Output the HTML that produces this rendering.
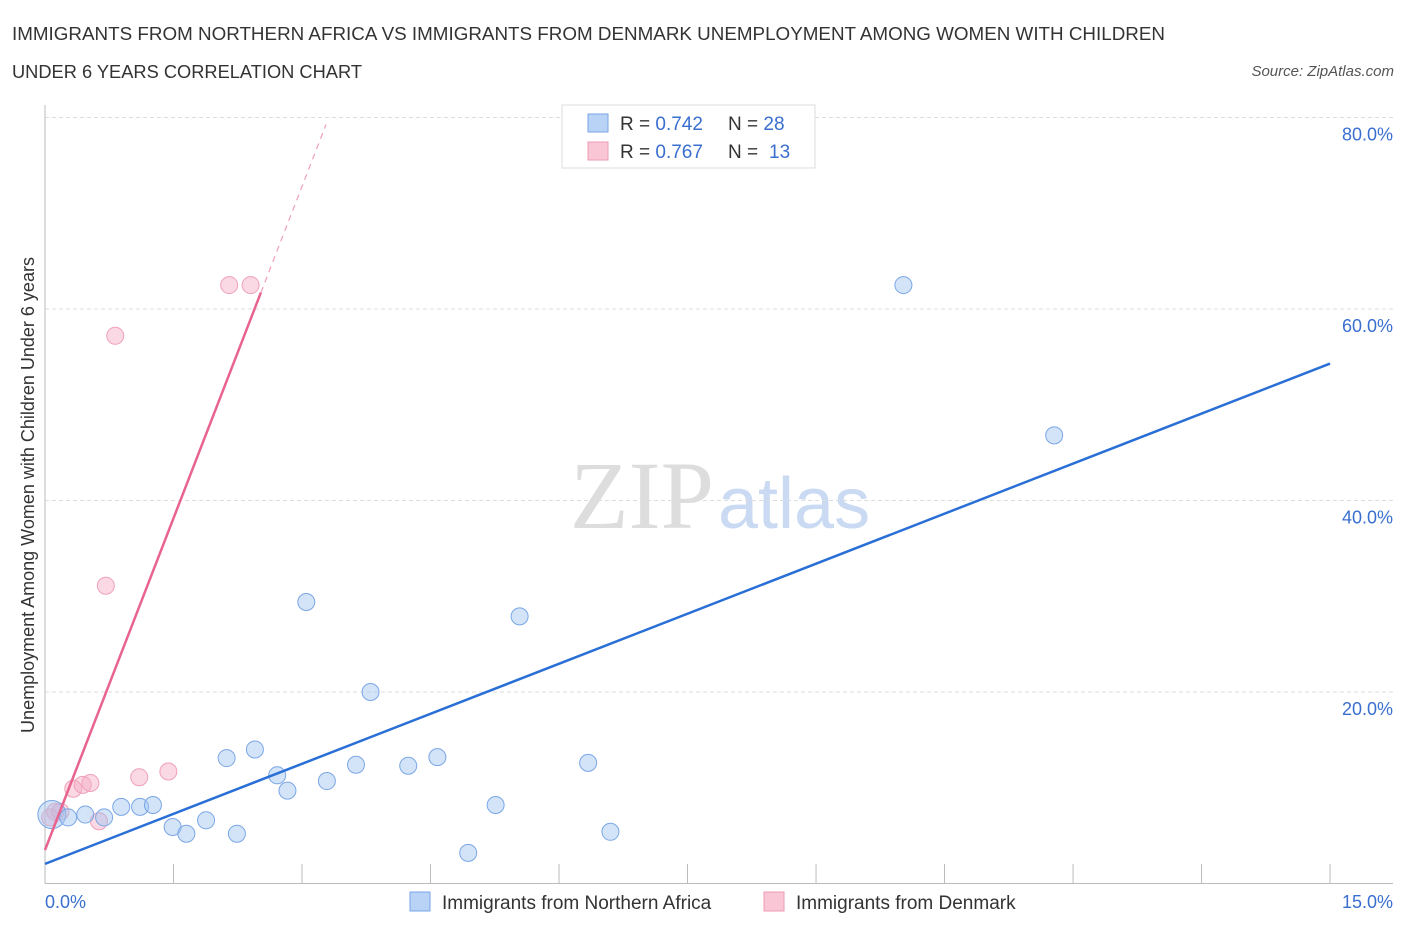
<!DOCTYPE html>
<html><head><meta charset="utf-8"><style>
body{margin:0;background:#fff;font-family:"Liberation Sans",sans-serif}
</style></head><body>
<svg width="1406" height="930" xmlns="http://www.w3.org/2000/svg" font-family="Liberation Sans, sans-serif">
<text x="12" y="40" font-size="18" fill="#333" textLength="1153" lengthAdjust="spacingAndGlyphs">IMMIGRANTS FROM NORTHERN AFRICA VS IMMIGRANTS FROM DENMARK UNEMPLOYMENT AMONG WOMEN WITH CHILDREN</text>
<text x="12" y="78" font-size="18" fill="#333" textLength="350" lengthAdjust="spacingAndGlyphs">UNDER 6 YEARS CORRELATION CHART</text>
<text x="1394" y="76" font-size="15" fill="#555" font-style="italic" text-anchor="end">Source: ZipAtlas.com</text>
<text x="714" y="528" font-size="96" fill="#ddd" text-anchor="end" style="font-family:'Liberation Serif',serif">ZIP</text>
<text x="718" y="528" font-size="72" fill="#c9daf2">atlas</text>
<g id="grid"></g><g id="axes"></g><g id="marks"></g>
<text transform="translate(34,495) rotate(-90)" font-size="18" fill="#333" text-anchor="middle">Unemployment Among Women with Children Under 6 years</text>
<text x="45" y="908" font-size="18" fill="#3a6fd0">0.0%</text>
<text x="1393" y="908" font-size="18" fill="#3a6fd0" text-anchor="end">15.0%</text>
<g>
<rect x="562" y="105" width="253" height="63" fill="#fff" stroke="#ddd"/>
<rect x="588" y="114" width="20" height="18" fill="#b8d3f5" stroke="#7aa6e6"/>
<rect x="588" y="142" width="20" height="18" fill="#f9c6d5" stroke="#ef9ab3"/>
<text x="620" y="130" font-size="19" fill="#333">R = <tspan fill="#3a6fd0">0.742</tspan></text>
<text x="728" y="130" font-size="19" fill="#333">N = <tspan fill="#3a6fd0">28</tspan></text>
<text x="620" y="158" font-size="19" fill="#333">R = <tspan fill="#3a6fd0">0.767</tspan></text>
<text x="728" y="158" font-size="19" fill="#333">N = <tspan x="769" fill="#3a6fd0">13</tspan></text>
</g>
<g>
<rect x="410" y="892" width="20" height="19" fill="#b8d3f5" stroke="#7aa6e6"/>
<text x="442" y="909" font-size="19" fill="#333">Immigrants from Northern Africa</text>
<rect x="764" y="892" width="20" height="19" fill="#f9c6d5" stroke="#ef9ab3"/>
<text x="796" y="909" font-size="19" fill="#333">Immigrants from Denmark</text>
</g>
</svg>
<script>
const yTicks=[20,40,60,80];
const yTickLabels=["20.0%","40.0%","60.0%","80.0%"];
const blueX=[0.08,0.27,0.47,0.69,0.89,1.11,1.26,1.49,1.65,1.88,2.12,2.24,2.45,2.71,2.83,3.05,3.29,3.63,3.80,4.24,4.58,4.94,5.26,5.54,6.34,6.60,10.02,11.78];
const blueY=[7.2,6.9,7.2,6.9,8.0,8.0,8.2,5.9,5.2,6.6,13.1,5.2,14.0,11.3,9.7,29.4,10.7,12.4,20.0,12.3,13.2,3.2,8.2,27.9,12.6,5.4,62.5,46.8];
const pinkX=[0.06,0.12,0.18,0.33,0.44,0.53,0.63,0.71,0.82,1.10,1.44,2.15,2.40];
const pinkY=[6.9,7.5,7.5,9.9,10.3,10.5,6.5,31.1,57.2,11.1,11.7,62.5,62.5];
const blueTrend=[2.05,54.3];
const pinkTrend=[3.5,23.1];
const NS="http://www.w3.org/2000/svg";
const sx=v=>45+v*85.67, sy=v=>883.5-v*9.575;
function mk(t,a,p){const e=document.createElementNS(NS,t);for(const k in a)e.setAttribute(k,a[k]);document.getElementById(p).appendChild(e);return e;}
yTicks.forEach((t,i)=>{
 const g=mk('line',{x1:45,x2:1393,y1:sy(t),y2:sy(t),stroke:'#ddd','stroke-dasharray':'4,3'},'grid');
 
 
 const l=mk('text',{x:1393,y:sy(t)+23,'font-size':18,fill:'#3a6fd0','text-anchor':'end'},'grid');
 l.textContent=yTickLabels[i];
 
 
});
const ax=mk('line',{x1:45,x2:1393,y1:883.5,y2:883.5,stroke:'#bbb'},'axes');


const ay=mk('line',{x1:45,x2:45,y1:105,y2:883.5,stroke:'#bbb'},'axes');


for(let i=1;i<=10;i++){const t=mk('line',{x1:sx(i*1.5),x2:sx(i*1.5),y1:864,y2:883.5,stroke:'#bbb'},'axes');
 
 }
pinkX.forEach((x,i)=>{const c=mk('circle',{cx:sx(x),cy:sy(pinkY[i]),r:8.5,fill:'rgba(245,170,195,0.45)',stroke:'#f0a0b8'},'marks');
 
 });
blueX.forEach((x,i)=>{const c=mk('circle',{cx:sx(x),cy:sy(blueY[i]),r:i==0?14:8.5,fill:'rgba(160,195,240,0.45)',stroke:'#7aa6e6'},'marks');
 
 });
const bl=mk('line',{x1:sx(0),y1:sy(blueTrend[0]),x2:sx(15),y2:sy(blueTrend[1]),stroke:'#2a6fd6','stroke-width':2.5},'marks');


const pl=mk('line',{x1:sx(0),y1:sy(pinkTrend[0]),x2:sx(2.52),y2:sy(pinkTrend[0]+2.52*pinkTrend[1]),stroke:'#e8638e','stroke-width':2.5},'marks');


const pd=mk('line',{x1:sx(2.52),y1:sy(pinkTrend[0]+2.52*pinkTrend[1]),x2:sx(3.28),y2:sy(pinkTrend[0]+3.28*pinkTrend[1]),stroke:'#f0a0b8','stroke-width':1.2,'stroke-dasharray':'6,5'},'marks');


</script>
</body></html>
